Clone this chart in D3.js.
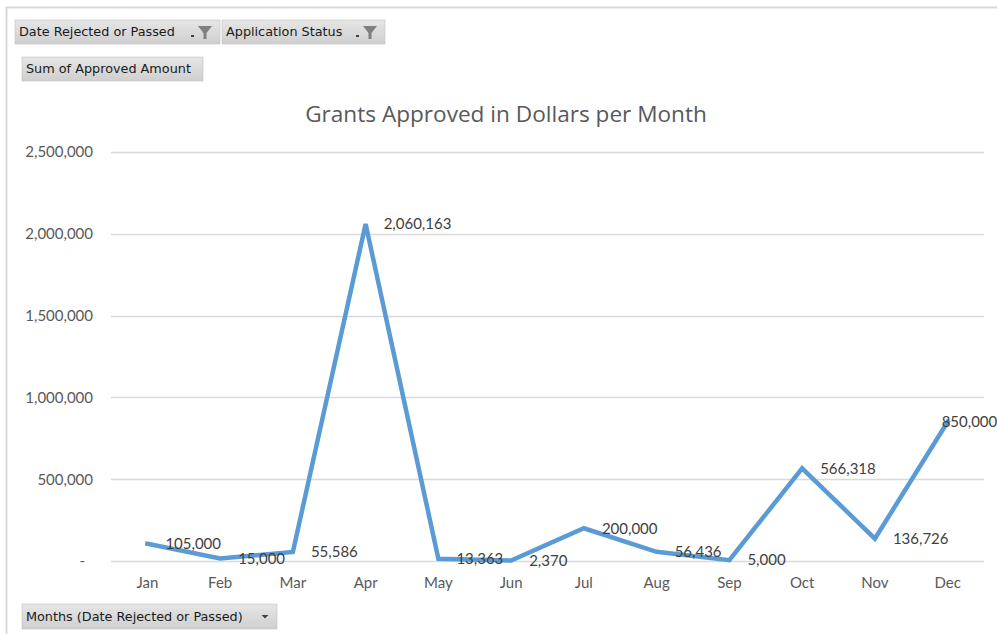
<!DOCTYPE html>
<html>
<head>
<meta charset="utf-8">
<script src="https://cdn.jsdelivr.net/npm/d3@7/dist/d3.min.js"></script>
<style>
  html, body { margin: 0; padding: 0; background: #fff; }
  svg { display: block; }
</style>
</head>
<body>
<svg id="chart" width="997" height="634"></svg>
<script>
const months = ["Jan","Feb","Mar","Apr","May","Jun","Jul","Aug","Sep","Oct","Nov","Dec"];
const approved = [105000, 15000, 55586, 2060163, 13363, 2370, 200000, 56436, 5000, 566318, 136726, 850000];
const yTicks = [0, 500000, 1000000, 1500000, 2000000, 2500000];
const titleText = "Grants Approved in Dollars per Month";
const filterButtons = ["Date Rejected or Passed", "Application Status"];
const valueButton = "Sum of Approved Amount";
const axisButton = "Months (Date Rejected or Passed)";

const svg = d3.select("#chart");
const W = 997, H = 634;
const chartFont = "Lato, 'Open Sans', sans-serif";
const titleFont = "'Open Sans', Lato, sans-serif";
const btnFont = "'DejaVu Sans', Tahoma, sans-serif";

const defs = svg.append("defs");
const g1 = defs.append("linearGradient").attr("id","btnGrad").attr("x1",0).attr("y1",0).attr("x2",0).attr("y2",1);
g1.append("stop").attr("offset","0%").attr("stop-color","#e6e6e6");
g1.append("stop").attr("offset","100%").attr("stop-color","#cfcfcf");

// frame
svg.append("path")
  .attr("d", `M6.5,${H} L6.5,7.5 L${W},7.5`)
  .attr("fill","none").attr("stroke","#d9d9d9").attr("stroke-width",2);

// scales
const margin = {left: 111, right: 984, top: 152, bottom: 561};
const x = d3.scaleBand().domain(months).range([margin.left, margin.right]);
const y = d3.scaleLinear().domain([0, 2500000]).range([margin.bottom, margin.top]);

// gridlines
svg.append("g").selectAll("line").data(yTicks).join("line")
  .attr("x1", margin.left).attr("x2", margin.right)
  .attr("y1", d => Math.round(y(d)) + 0.5).attr("y2", d => Math.round(y(d)) + 0.5)
  .attr("stroke","#d9d9d9").attr("stroke-width",1.3);

// y axis
const fmt = d3.format(",");
const yAxis = d3.axisLeft(y).tickValues(yTicks).tickSize(0).tickPadding(0)
  .tickFormat(d => d === 0 ? "-" : fmt(d));
const yg = svg.append("g").attr("transform", `translate(${93},0)`).call(yAxis);
yg.select(".domain").remove();
yg.selectAll("text").attr("font-family", chartFont).attr("font-size", 15).attr("fill","#595959")
  .attr("dx", d => d === 0 ? -8 : 0);

// x axis
const xAxis = d3.axisBottom(x).tickSize(0).tickPadding(0);
const xg = svg.append("g").attr("transform", `translate(0,${577})`).call(xAxis);
xg.select(".domain").remove();
xg.selectAll("text").attr("font-family", chartFont).attr("font-size", 15).attr("fill","#595959");

// title
svg.append("text").attr("x", 506).attr("y", 122).attr("text-anchor","middle")
  .attr("font-family", titleFont).attr("font-size", 22.6).attr("fill","#595959").text(titleText);

// line
const line = d3.line().x((d,i) => x(months[i]) + x.bandwidth()/2).y(d => y(d));
svg.append("path").datum(approved).attr("d", line)
  .attr("fill","none").attr("stroke","#5b9bd5").attr("stroke-width",4.5)
  .attr("stroke-linejoin","miter").attr("stroke-linecap","square");

// labels
svg.append("g").selectAll("text").data(approved).join("text")
  .attr("x", (d,i) => {
    const px = x(months[i]) + x.bandwidth()/2 + 18;
    return i === months.length - 1 ? px - 24 : px;
  })
  .attr("y", d => y(d)).attr("dy","0.35em")
  .attr("font-family", chartFont).attr("font-size", 15).attr("fill","#404040")
  .text(d => fmt(d));

// buttons
function funnel(g, cx, cy) {
  g.append("path").attr("d", `M${cx-7},${cy-6} L${cx+7},${cy-6} L${cx+1.5},${cy+1} L${cx+1.5},${cy+7} L${cx-1.5},${cy+7} L${cx-1.5},${cy+1} Z`)
    .attr("fill","#7f7f7f");
  g.append("rect").attr("x", cx-14).attr("y", cy+3).attr("width",3).attr("height",2).attr("fill","#404040");
}
function button(x0, y0, w, h, label, icon) {
  const g = svg.append("g");
  g.append("rect").attr("x", x0).attr("y", y0).attr("width", w).attr("height", h)
    .attr("fill","url(#btnGrad)").attr("stroke","#c4c4c4").attr("stroke-width",0.6);
  g.append("text").attr("x", x0 + 4).attr("y", y0 + h/2).attr("dy","0.35em")
    .attr("font-family", btnFont).attr("font-size", 12.8).attr("fill","#1a1a1a").text(label);
  if (icon === "funnel") funnel(g, x0 + w - 15, y0 + h/2);
  if (icon === "drop") {
    const cx = x0 + w - 12, cy = y0 + h/2;
    g.append("path").attr("d", `M${cx-3.5},${cy-1.5} L${cx+3.5},${cy-1.5} L${cx},${cy+2} Z`).attr("fill","#404040");
  }
}
button(15, 20, 205, 24, filterButtons[0], "funnel");
button(222, 20, 163, 24, filterButtons[1], "funnel");
button(22, 57, 181, 24, valueButton, null);
button(22, 604, 255, 25, axisButton, "drop");
</script>
</body>
</html>
